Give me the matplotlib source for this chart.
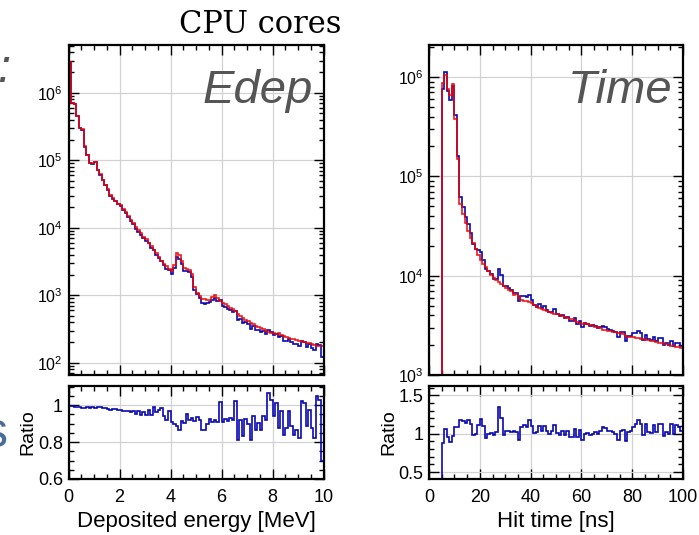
import numpy as np
import matplotlib.pyplot as plt
from matplotlib.ticker import MultipleLocator, LogLocator, NullFormatter, FuncFormatter

plt.rcParams['font.family'] = ['Liberation Sans', 'DejaVu Sans']
plt.rcParams['mathtext.default'] = 'regular'

# 100 bins each: 0-10 MeV and 0-100 ns
edep_edges = np.linspace(0, 10, 101)
time_edges = np.linspace(0, 100, 101)

# reference (red) counts per bin, deposited energy
edep_red = [
    2820000, 708000, 692000, 457000, 302000, 288000, 162000, 120000, 91200, 90500,
    94400, 72400, 61700, 51300, 43600, 37200, 30900, 27500, 25100, 22900,
    21400, 19100, 17000, 15100, 13200, 11700, 10200, 9120, 8320, 7410,
    6760, 6030, 5370, 4680, 4170, 3720, 3240, 2950, 2690, 2450,
    2290, 2820, 4170, 3980, 3240, 2570, 2450, 2400, 2040, 1320,
    1100, 977, 891, 871, 851, 861, 933, 1000, 912, 832,
    776, 733, 692, 653, 617, 582, 537, 490, 462, 437,
    412, 389, 372, 355, 343, 331, 313, 295, 290, 275,
    272, 263, 275, 257, 252, 243, 234, 229, 228, 216,
    214, 207, 204, 196, 195, 191, 186, 180, 178, 176,
]

# blue / red ratio per bin, deposited energy
edep_ratio = [
    0.996, 0.993, 0.989, 0.989, 0.987, 0.986, 0.986, 0.987, 0.986, 0.989,
    0.986, 0.991, 0.987, 0.982, 0.982, 0.977, 0.971, 0.980, 0.978, 0.975,
    0.971, 0.966, 0.968, 0.966, 0.964, 0.966, 0.953, 0.966, 0.944, 0.964,
    0.944, 0.975, 0.948, 0.989, 0.964, 0.975, 0.986, 0.939, 0.921, 0.966,
    0.906, 0.895, 0.885, 0.867, 0.912, 0.903, 0.951, 0.917, 0.930, 0.915,
    0.935, 0.921, 0.863, 0.867, 0.899, 0.924, 0.908, 0.917, 0.908, 1.015,
    0.906, 0.924, 0.912, 0.930, 0.920, 1.020, 0.813, 0.921, 0.834, 0.926,
    0.900, 0.813, 0.939, 0.867, 0.903, 0.867, 0.939, 0.921, 1.065, 1.029,
    0.939, 1.011, 0.876, 0.966, 0.840, 0.876, 0.966, 0.888, 0.840, 0.867,
    0.822, 1.020, 1.011, 0.885, 0.975, 0.876, 0.822, 1.050, 1.029, 0.700,
]

# reference (red) counts per bin, hit time
time_red = [
    0, 0, 0, 0, 0, 870000, 1050000, 760000, 660000, 850000,
    380000, 148000, 52500, 41700, 33900, 28200, 24000, 21400, 18600, 16200,
    14500, 13200, 12300, 11200, 10200, 9550, 9120, 8710, 8320, 7940,
    7590, 7240, 7080, 6460, 6610, 6030, 5750, 5620, 5560, 5370,
    5250, 5010, 4790, 4730, 4570, 4520, 4370, 4270, 4170, 4120,
    4070, 3980, 3890, 3850, 3720, 3670, 3630, 3510, 3390, 3310,
    3270, 3310, 3240, 3160, 3160, 3050, 3020, 2950, 2850, 2820,
    2790, 2750, 2690, 2690, 2660, 2630, 2570, 2450, 2430, 2400,
    2430, 2370, 2340, 2320, 2290, 2240, 2240, 2210, 2190, 2140,
    2110, 2090, 2070, 2040, 2000, 1970, 1950, 1910, 1910, 1880,
]

# blue / red ratio per bin, hit time
time_ratio = [
    0, 0, 0, 0, 0, 0.880, 1.065, 0.957, 0.890, 0.965,
    1.087, 1.087, 1.180, 1.165, 1.140, 1.180, 1.120, 0.980, 1.000, 1.110,
    1.195, 1.095, 0.948, 1.000, 1.010, 0.980, 1.020, 1.346, 1.210, 0.980,
    1.040, 1.030, 1.020, 1.040, 1.020, 0.920, 1.087, 1.110, 1.087, 1.180,
    1.095, 1.010, 1.020, 1.095, 1.035, 1.095, 1.040, 1.000, 1.030, 1.110,
    1.010, 0.980, 1.040, 0.980, 1.040, 0.957, 0.957, 1.065, 0.957, 1.050,
    0.920, 1.000, 1.010, 0.980, 1.000, 1.020, 0.990, 1.040, 1.087, 1.070,
    1.040, 1.040, 1.020, 1.000, 0.913, 1.040, 1.050, 0.905, 1.020, 1.040,
    1.087, 1.130, 1.180, 1.130, 0.980, 1.130, 1.020, 1.010, 1.110, 1.020,
    1.130, 1.120, 0.970, 1.020, 1.000, 1.120, 1.000, 1.110, 1.087, 1.040,
]

edep_blue = np.array(edep_red) * np.array(edep_ratio)
time_blue = np.array(time_red) * np.array(time_ratio)

BLUE = '#0808b0'
RED = '#f00000'
W, H = 699, 535

fig = plt.figure(figsize=(W / 100, H / 100), dpi=100)


def add_axes_px(x0, y0, x1, y1):
    return fig.add_axes([x0 / W, 1 - y1 / H, (x1 - x0) / W, (y1 - y0) / H])


def root_style(ax):
    ax.tick_params(which='both', direction='in', top=True, right=True, width=1.0)
    ax.tick_params(which='major', length=7)
    ax.tick_params(which='minor', length=3.5)
    for s in ax.spines.values():
        s.set_linewidth(1.6)
    ax.grid(True, which='major', color='#d2d2d2', lw=0.9)
    ax.set_axisbelow(True)


fmt_g = FuncFormatter(lambda v, p: '%g' % v)

panels = [
    (68.5, 323.5, edep_edges, edep_red, edep_blue, edep_ratio, 'Edep',
     (66, 5.1e6), (0.6, 1.103), 0.2, 0.05, 2, 0.5, 'Deposited energy [MeV]'),
    (429, 683, time_edges, time_red, time_blue, time_ratio, 'Time',
     (1e3, 2.1e6), (0.41, 1.62), 0.5, 0.1, 20, 5, 'Hit time [ns]'),
]

for (x0, x1, edges, red, blue, ratio, tag, ylim, rlim,
     rmaj, rmin, xmaj, xmin, xlabel) in panels:
    ax = add_axes_px(x0, 45, x1, 375)
    ax.stairs(blue, edges, baseline=1, color=BLUE, lw=1.2)
    ax.stairs(red, edges, baseline=1, color=RED, lw=1.2, alpha=0.9)
    ax.set_yscale('log')
    ax.set_xlim(edges[0], edges[-1])
    ax.set_ylim(*ylim)
    ax.yaxis.set_major_locator(LogLocator(base=10))
    ax.yaxis.set_minor_locator(LogLocator(base=10, subs=np.arange(2, 10)))
    ax.yaxis.set_minor_formatter(NullFormatter())
    ax.xaxis.set_major_locator(MultipleLocator(xmaj))
    ax.xaxis.set_minor_locator(MultipleLocator(xmin))
    ax.set_xticklabels([])
    root_style(ax)
    ax.tick_params(axis='y', which='major', labelsize=11.5, pad=4)
    ax.text(0.957, 0.824, tag, transform=ax.transAxes, style='italic',
            size=34, color='#555555', ha='right', va='baseline')

    rx = add_axes_px(x0, 386, x1, 479)
    rx.stairs(ratio, edges, baseline=0, color=BLUE, lw=1.2)
    rx.set_xlim(edges[0], edges[-1])
    rx.set_ylim(*rlim)
    rx.xaxis.set_major_locator(MultipleLocator(xmaj))
    rx.xaxis.set_minor_locator(MultipleLocator(xmin))
    rx.yaxis.set_major_locator(MultipleLocator(rmaj))
    rx.yaxis.set_minor_locator(MultipleLocator(rmin))
    rx.yaxis.set_major_formatter(fmt_g)
    root_style(rx)
    rx.tick_params(axis='both', which='major', labelsize=13)
    rx.tick_params(axis='x', which='major', pad=7)
    rx.tick_params(axis='y', which='major', pad=4)
    rx.set_ylabel('Ratio', size=14, labelpad=1)
    rx.set_xlabel(xlabel, size=16, labelpad=4)

fig.text(260 / W, 1 - 33 / H, 'CPU cores', family='DejaVu Serif', size=22,
         ha='center', va='baseline')
fig.text(10 / W, 1 - 82 / H, ':', style='italic', size=34, color='#555555',
         ha='right', va='baseline')
fig.text(8 / W, 1 - 447 / H, 's', size=36, color='#4a6c9b',
         ha='right', va='baseline')

fig.savefig('out.png', dpi=100)
